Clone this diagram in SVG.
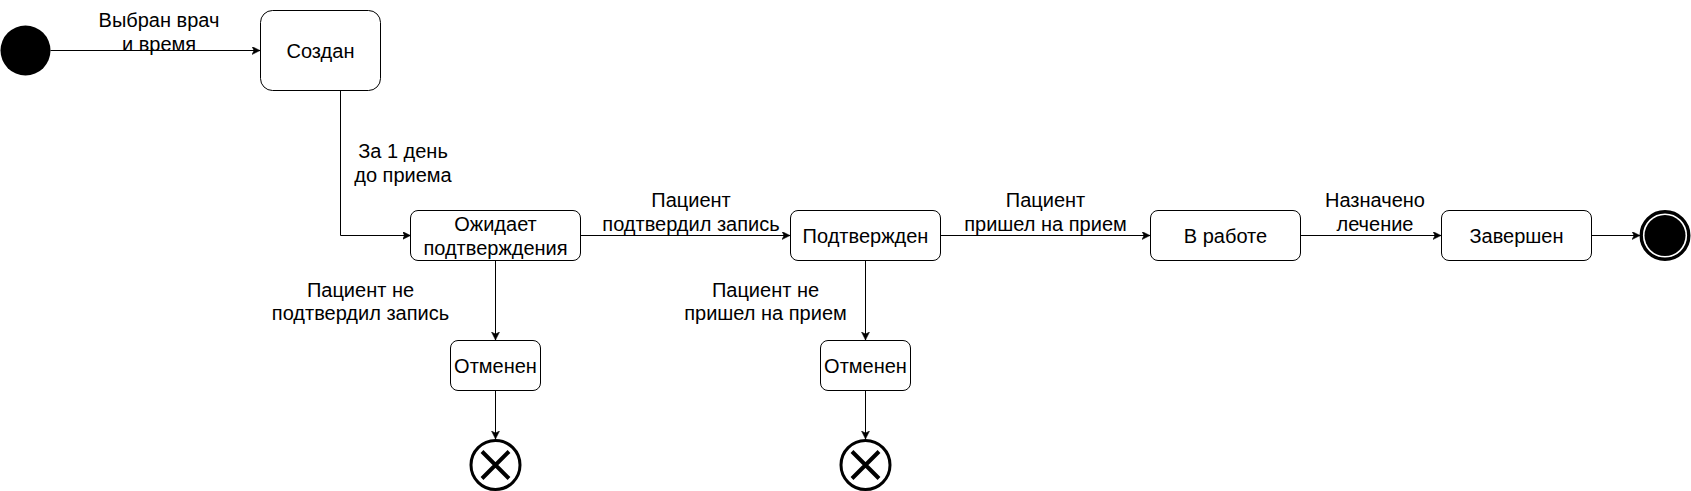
<svg xmlns="http://www.w3.org/2000/svg" width="1691" height="491" viewBox="0 0 1691 491">
  <style>
    .state { fill: #ffffff; stroke: #000000; stroke-width: 1; }
    .label { font-family: "Liberation Sans", Arial, sans-serif; font-size: 20px; fill: #000000; text-anchor: middle; }
    .edge { fill: none; stroke: #000000; stroke-width: 1; marker-end: url(#arrow); }
  </style>
  <defs>
    <marker id="arrow" markerUnits="userSpaceOnUse" markerWidth="9" markerHeight="9" refX="8" refY="4" orient="auto">
      <path d="M0,0 L8,4 L0,8 L2,4 z" fill="#000000" stroke="#000000" stroke-width="0.5"/>
    </marker>
  </defs>
  <rect width="1691" height="491" fill="#ffffff"/>

  <g id="connectors">
    <path class="edge" d="M50.5,50.5 H260"/>
    <path class="edge" d="M340.5,90.5 V235.5 H410.5"/>
    <path class="edge" d="M580.5,235.5 H790"/>
    <path class="edge" d="M940.5,235.5 H1150"/>
    <path class="edge" d="M1300.5,235.5 H1441"/>
    <path class="edge" d="M1591.5,235.5 H1640"/>
    <path class="edge" d="M495.5,260.5 V340"/>
    <path class="edge" d="M865.5,260.5 V340"/>
    <path class="edge" d="M495.5,390.5 V439"/>
    <path class="edge" d="M865.5,390.5 V439"/>
    <text class="label" x="159" y="27">Выбран врач</text>
    <text class="label" x="159" y="51">и время</text>
    <text class="label" x="403" y="158">За 1 день</text>
    <text class="label" x="403" y="182">до приема</text>
    <text class="label" x="691" y="207">Пациент</text>
    <text class="label" x="691" y="231">подтвердил запись</text>
    <text class="label" x="1045.5" y="207">Пациент</text>
    <text class="label" x="1045.5" y="231">пришел на прием</text>
    <text class="label" x="1375" y="207">Назначено</text>
    <text class="label" x="1375" y="231">лечение</text>
    <text class="label" x="360.5" y="297">Пациент не</text>
    <text class="label" x="360.5" y="320">подтвердил запись</text>
    <text class="label" x="765.5" y="297">Пациент не</text>
    <text class="label" x="765.5" y="320">пришел на прием</text>
  </g>

  <g id="initial">
    <circle cx="25.5" cy="50.5" r="25" fill="#000000"/>
  </g>

  <g id="created">
    <rect class="state" x="260.5" y="10.5" width="120" height="80" rx="12" ry="12"/>
    <text class="label" x="320.5" y="58">Создан</text>
  </g>

  <g id="awaiting">
    <rect class="state" x="410.5" y="210.5" width="170" height="50" rx="7.5" ry="7.5"/>
    <text class="label" x="495.5" y="231">Ожидает</text>
    <text class="label" x="495.5" y="255">подтверждения</text>
  </g>

  <g id="confirmed">
    <rect class="state" x="790.5" y="210.5" width="150" height="50" rx="7.5" ry="7.5"/>
    <text class="label" x="865.5" y="243">Подтвержден</text>
  </g>

  <g id="inprogress">
    <rect class="state" x="1150.5" y="210.5" width="150" height="50" rx="7.5" ry="7.5"/>
    <text class="label" x="1225.5" y="243">В работе</text>
  </g>

  <g id="completed">
    <rect class="state" x="1441.5" y="210.5" width="150" height="50" rx="7.5" ry="7.5"/>
    <text class="label" x="1516.5" y="243">Завершен</text>
  </g>

  <g id="final">
    <circle cx="1665" cy="235.5" r="23.8" fill="#ffffff" stroke="#000000" stroke-width="3.4"/>
    <circle cx="1665" cy="235.5" r="20.5" fill="#000000"/>
  </g>

  <g id="cancelled1">
    <rect class="state" x="450.5" y="340.5" width="90" height="50" rx="7.5" ry="7.5"/>
    <text class="label" x="495.5" y="373">Отменен</text>
  </g>

  <g id="cancelled2">
    <rect class="state" x="820.5" y="340.5" width="90" height="50" rx="7.5" ry="7.5"/>
    <text class="label" x="865.5" y="373">Отменен</text>
  </g>

  <g id="terminate1">
    <circle cx="495.5" cy="465" r="24.5" fill="#ffffff" stroke="#000000" stroke-width="3"/>
    <path d="M482,451.5 L509,478.5 M509,451.5 L482,478.5" stroke="#000000" stroke-width="4" fill="none"/>
  </g>

  <g id="terminate2">
    <circle cx="865.5" cy="465" r="24.5" fill="#ffffff" stroke="#000000" stroke-width="3"/>
    <path d="M852,451.5 L879,478.5 M879,451.5 L852,478.5" stroke="#000000" stroke-width="4" fill="none"/>
  </g>
</svg>
